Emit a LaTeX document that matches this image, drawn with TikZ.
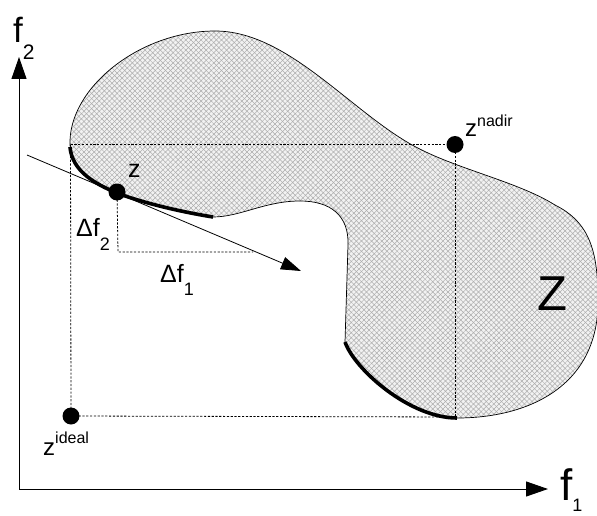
\documentclass[tikz,border=0pt]{standalone}
\usepackage{fontspec}
\setmainfont{Liberation Sans}
\usetikzlibrary{arrows.meta,patterns.meta}
\begin{document}
\begin{tikzpicture}[x=1pt,y=-1pt,
  dotln/.style={line width=0.8pt,dash pattern=on 2.2pt off 1.6pt},
  frontier/.style={line width=3.6pt,line cap=butt},
  dotpt/.style={circle,fill=black,inner sep=0pt,minimum size=17pt},
  lbl/.style={inner sep=0pt,anchor=base west},
  axis/.style={line width=1pt,{Triangle[length=22pt,width=15pt]}-{Triangle[length=22pt,width=15pt]}},
  hatch/.style={fill=gray!10,
    postaction={pattern={Lines[angle=45,distance=3.6pt,line width=0.5pt]},pattern color=gray!65},
    postaction={pattern={Lines[angle=-45,distance=3.6pt,line width=0.5pt]},pattern color=gray!65},
    postaction={draw,line width=0.7pt}}
]
\useasboundingbox (0,0) rectangle (597,516);

% feasible region Z
\path[hatch] (70,145) .. controls (68,88) and (140,31) .. (215,31)
  .. controls (285,31) and (345,105) .. (407,142)
  .. controls (450,168) and (515,180) .. (555,205)
  .. controls (589,222) and (598,250) .. (598,300)
  .. controls (599,385) and (530,418) .. (457,418)
  .. controls (410,418) and (355,370) .. (345,342)
  -- (348,245)
  .. controls (349,215) and (330,201) .. (300,201)
  .. controls (265,201) and (240,217) .. (213,217)
  .. controls (170,210) and (135,200) .. (117,193)
  .. controls (95,184) and (72,170) .. (70,145) -- cycle;

% Pareto fronts
\draw[frontier] (213,217) .. controls (170,210) and (135,200) .. (117,193)
  .. controls (95,184) and (72,171) .. (70,147);
\draw[frontier] (345,342) .. controls (355,370) and (410,418) .. (457,418);

% points
\node[dotpt] (zn) at (455,144.5) {};
\node[dotpt] (zi) at (71,416) {};
\node[dotpt] (zp) at (117,192) {};
\coordinate (lt) at (70.5,144.5);
\coordinate (rb) at (456.5,417);
\coordinate (dc) at (118,252);
\coordinate (de) at (253,252);

% dotted guides
\draw[dotln] (lt) -- (zn.center);
\draw[dotln] (zn.center) -- (zn.center |- rb);
\draw[dotln] (lt) -- (zi.center);
\draw[dotln] (zi.center) -- (rb);
\draw[dotln] (zp.center) -- (dc) -- (de);

% direction arrow
\coordinate (as) at (27,155);
\coordinate (ae) at (301,271);
\draw[line width=0.8pt,-{Triangle[length=20pt,width=13pt]}] (as) -- (ae);

% axes
\coordinate (ytop) at (19,57);
\coordinate (org) at (19,489);
\coordinate (xend) at (548,489);
\draw[axis] (ytop) -- (org) -- (xend);

% labels
\node[lbl] (lf2) at (13,43) {\fontsize{35}{35}\selectfont f\raisebox{-17pt}{\fontsize{21}{21}\selectfont 2}};
\node[lbl] (lf1) at (560,500) {\fontsize{44}{44}\selectfont f\raisebox{-11pt}{\fontsize{18}{18}\selectfont 1}};
\node[lbl] (lz) at (128,178) {\fontsize{25}{25}\selectfont z};
\node[lbl] (ldf2) at (76,236) {\fontsize{25}{25}\selectfont Δf\raisebox{-14pt}{\fontsize{18}{18}\selectfont 2}};
\node[lbl] (ldf1) at (160,282) {\fontsize{25}{25}\selectfont Δf\raisebox{-13pt}{\fontsize{18}{18}\selectfont 1}};
\node[lbl] (lzn) at (465,137) {\fontsize{24}{24}\selectfont z\raisebox{10pt}{\fontsize{16}{16}\selectfont nadir}};
\node[lbl] (lzi) at (43,455) {\fontsize{24}{24}\selectfont z\raisebox{12pt}{\fontsize{16}{16}\selectfont ideal}};
\node[lbl] (lZ) at (537,310) {\fontsize{49}{49}\selectfont Z};
\end{tikzpicture}
\end{document}
